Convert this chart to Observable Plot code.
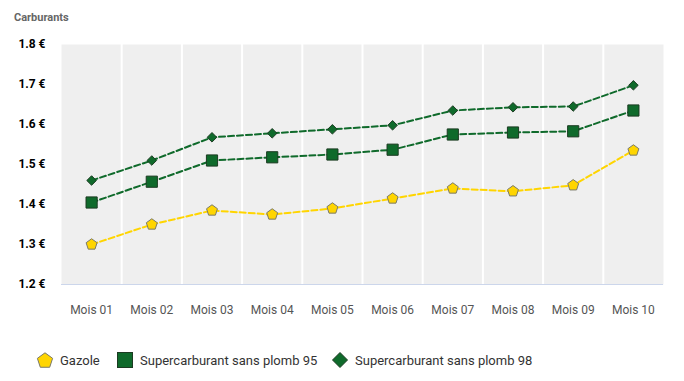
<!DOCTYPE html>
<html><head><meta charset="utf-8">
<script src="https://cdn.jsdelivr.net/npm/d3@7"></script>
<script src="https://cdn.jsdelivr.net/npm/@observablehq/plot@0.6"></script>
<style>
body{margin:0;background:#fff;font-family:Roboto,sans-serif;}
#wrap{position:relative;width:684px;height:381px;}
#title{position:absolute;left:14px;top:10px;font-size:11px;font-weight:bold;color:#666;line-height:16px;}
#chart{position:absolute;left:0;top:30px;}
.leg{position:absolute;top:351px;height:18px;display:flex;align-items:center;font-size:13px;color:#333;}
.leg svg{margin-right:6px;}
</style></head>
<body><div id="wrap"><div id="title">Carburants</div><div id="chart"></div><div id="legend"></div></div>
<script>
const months = ["Mois 01","Mois 02","Mois 03","Mois 04","Mois 05","Mois 06","Mois 07","Mois 08","Mois 09","Mois 10"];
const gazole = [1.30,1.35,1.385,1.375,1.39,1.415,1.44,1.433,1.448,1.535];
const sp95 = [1.405,1.457,1.51,1.518,1.525,1.537,1.575,1.58,1.583,1.635];
const sp98 = [1.46,1.51,1.568,1.578,1.588,1.598,1.635,1.643,1.645,1.698];
const yTicks = [1.2,1.3,1.4,1.5,1.6,1.7,1.8];
const seriesNames = ["Gazole","Supercarburant sans plomb 95","Supercarburant sans plomb 98"];

const pentagon = {
  draw(ctx, size) {
    const r = Math.sqrt(size / 2.378);
    for (let i = 0; i < 5; i++) {
      const a = -Math.PI/2 + i * 2*Math.PI/5;
      const x = r*Math.cos(a), y = r*Math.sin(a);
      i ? ctx.lineTo(x,y) : ctx.moveTo(x,y);
    }
    ctx.closePath();
  }
};
const green = "#0f6a2b";
const yellow = "#ffd500";
const rows = (vals) => vals.map((v,i) => ({i, v}));
const G = rows(gazole), S95 = rows(sp95), S98 = rows(sp98);
const idx = months.map((m,i)=>i);
const seps = idx.slice(0,-1).map(i=>i+0.5);

const plot = Plot.plot({
  width: 684, height: 300,
  marginLeft: 61, marginRight: 21, marginTop: 14, marginBottom: 46,
  style: {fontFamily: "Roboto, sans-serif", background: "transparent"},
  x: {type: "linear", domain: [-0.5, 9.5], axis: null, label: null},
  y: {domain: [1.2, 1.8], axis: null, label: null},
  marks: [
    Plot.frame({fill: "#efefef", stroke: "none"}),
    Plot.ruleX(seps, {stroke: "#fff", strokeWidth: 2}),
    Plot.ruleY([1.2], {stroke: "#ccd6eb"}),
    Plot.axisY(yTicks, {label: null, tickSize: 0, tickPadding: 16, tickFormat: d => d.toFixed(1) + " €", fontSize: 12, fontWeight: "bold", fill: "#000"}),
    Plot.axisX(idx, {label: null, tickSize: 0, tickPadding: 21, tickFormat: i => months[i], fontSize: 12, fill: "#555"}),
    Plot.line(G, {x: "i", y: "v", stroke: yellow, strokeWidth: 2, strokeDasharray: "6,3"}),
    Plot.line(S95, {x: "i", y: "v", stroke: green, strokeWidth: 2, strokeDasharray: "6,3"}),
    Plot.line(S98, {x: "i", y: "v", stroke: green, strokeWidth: 2, strokeDasharray: "6,3"}),
    Plot.dot(G, {x: "i", y: "v", symbol: pentagon, r: 5, fill: yellow, stroke: "#7a7a6a", strokeWidth: 1}),
    Plot.dot(S95, {x: "i", y: "v", symbol: "square", r: 6.3, fill: green, stroke: "#1c3b22", strokeWidth: 1}),
    Plot.dot(S98, {x: "i", y: "v", symbol: "diamond2", r: 4.3, fill: green, stroke: "#1c3b22", strokeWidth: 1})
  ]
});
document.getElementById("chart").appendChild(plot);

const legend = document.getElementById("legend");
const swatches = [
  {left: 36, svg: '<svg width="18" height="18" viewBox="-9 -9 18 18"><path d="' + (()=>{let p="";for(let i=0;i<5;i++){const a=-Math.PI/2+i*2*Math.PI/5;p+=(i?"L":"M")+(8*Math.cos(a)).toFixed(2)+","+(8*Math.sin(a)+0.8).toFixed(2);}return p+"Z";})() + '" fill="' + yellow + '" stroke="#7a7a6a"/></svg>'},
  {left: 116, svg: '<svg width="18" height="18" viewBox="-9 -9 18 18"><rect x="-7.5" y="-7.5" width="15" height="15" fill="' + green + '" stroke="#1c3b22"/></svg>'},
  {left: 331, svg: '<svg width="18" height="18" viewBox="-9 -9 18 18"><path d="M0,-7.5L7.5,0L0,7.5L-7.5,0Z" fill="' + green + '" stroke="#1c3b22"/></svg>'}
];
swatches.forEach((s, k) => {
  const d = document.createElement("div");
  d.className = "leg";
  d.style.left = s.left + "px";
  d.innerHTML = s.svg + "<span>" + seriesNames[k] + "</span>";
  legend.appendChild(d);
});
</script></body></html>
